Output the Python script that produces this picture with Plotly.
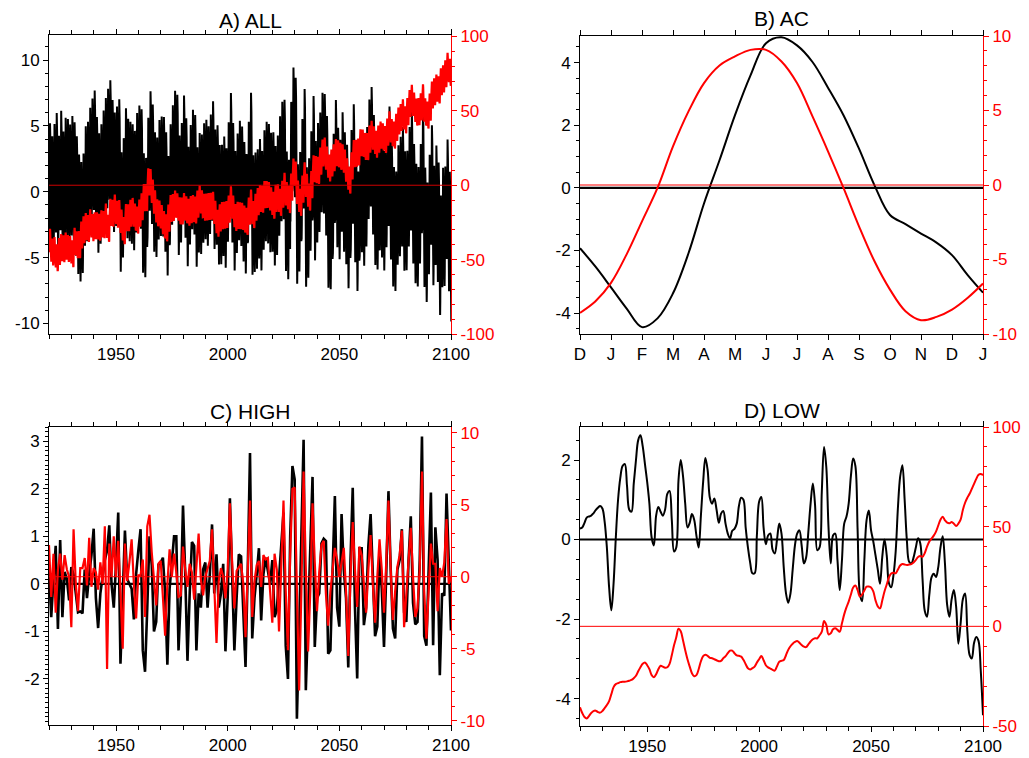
import numpy as np
import plotly.graph_objects as go

# ---------------- data ----------------
YEARS = list(range(1920, 2101))

# C) HIGH : annual high-frequency component (black = left axis, red = right axis)
HIGH_BLACK = [
    0.3, -0.7, 0.1, 0.8, -0.95, 0.92, -0.7, 0.25, 0.1, -0.35,
    0.35, 0.2, -0.2, -0.6, -0.58, -0.62, 0.3, -0.3, 0.2, 0.6,
    1.16, -0.3, -0.93, -0.2, 0.15, 0.5, 0.7, 1.23, 0.0, -0.5,
    0.4, 1.5, -1.68, -0.4, 1.12, 0.1, 0.0, -0.1, -0.75, 0.2,
    0.7, 1.15, -1.4, -1.85, -0.5, 1.0, 0.4, -1.0, -0.8, 0.4,
    0.45, 0.55, -0.2, -1.7, -0.1, 0.5, 1.0, 1.0, -1.4, -0.3,
    1.65, 0.2, -1.62, -0.2, 0.88, 0.8, -1.4, -0.2, -0.5, 0.3,
    0.45, -0.5, 0.2, 1.25, -0.2, 0.62, -0.5, -0.2, 0.42, -1.42,
    -0.3, 1.8, 0.3, -1.4, -0.3, 0.62, 0.58, -0.5, -1.75, 0.3,
    2.75, -1.15, -0.3, 0.2, 0.75, -0.77, 0.2, 0.55, 0.3, 0.0,
    0.5, -0.7, -0.55, 0.2, 0.8, 1.5, -1.3, -2.0, 1.0, 2.48,
    2.2, -2.84, -1.0, 0.8, 3.03, -2.24, -0.8, 0.5, 2.25, -1.33,
    -0.3, -0.2, 0.85, 0.95, 0.9, -1.47, -1.4, 0.3, 1.85, -0.5,
    -0.9, 1.47, 0.3, -0.3, -1.76, 0.5, 2.02, -0.5, -1.99, 0.75,
    0.75, -0.87, -0.5, 0.8, 1.47, 0.2, -1.1, -0.9, 0.6, -0.1,
    -1.33, 0.2, 1.95, 0.3, -0.94, -1.15, 0.3, 0.5, 1.15, -0.6,
    -0.8, 0.5, 1.42, -0.4, -0.85, -0.8, 0.5, 3.1, -1.1, -1.3,
    0.3, 1.92, -1.29, 1.19, 0.5, -1.92, -0.2, -0.25, 1.9, 0.2,
    -0.98,
]
HIGH_RED = [
    2.2, -1.4, 1.6, -2.5, 0.5, 1.6, -0.2, 1.5, 0.5, 0.0,
    -3.5, 3.3, -0.5, -2.4, 0.6, 0.6, 1.3, -0.6, 2.7, -0.7,
    0.6, 0.3, -0.9, 1.0, -0.5, 3.5, -6.4, 2.3, 0.0, 2.8,
    0.0, 2.5, -1.0, -5.0, 2.3, -0.3, 1.0, 2.6, -0.5, -2.9,
    0.1, 0.1, 1.2, -2.8, 3.5, 4.3, 1.7, -0.5, -2.0, 0.9,
    1.1, -1.4, -4.1, -0.5, 1.9, 0.0, 1.6, 0.3, -1.4, -1.3,
    2.1, 0.5, -0.7, 0.9, 0.3, -1.6, 0.8, 3.0, -0.2, -1.3,
    0.0, 0.5, 1.1, 3.3, -0.5, -4.6, -0.3, 0.6, 0.0, -1.5,
    0.5, 5.1, 1.0, -2.2, 0.4, 0.7, 0.9, -0.5, -4.2, 0.5,
    5.3, -2.8, -0.3, 0.8, 1.1, -0.7, 1.5, 1.2, 1.3, -1.0,
    -3.2, 1.6, 0.5, -3.8, 0.5, 5.3, -1.0, -5.1, 1.5, 6.1,
    6.2, -2.0, -7.9, -1.0, 7.3, 0.5, -5.2, -1.0, 5.1, 1.0,
    -2.4, 0.3, 2.2, 2.5, -1.2, -3.4, -1.0, 0.5, 2.0, 1.2,
    0.0, 1.0, 2.0, -1.0, -5.5, 0.0, 3.8, 0.5, -2.1, 2.1,
    1.5, -0.5, -2.5, 0.5, 2.9, -0.5, -3.2, 0.0, 2.6, 0.5,
    -2.5, 1.0, 5.3, 0.5, -3.0, -1.0, 0.7, 1.5, 3.2, -3.5,
    -1.0, 1.5, 3.4, 0.0, -2.8, -2.2, 0.5, 7.3, -1.0, -4.3,
    -1.0, 2.3, 0.9, 0.9, -2.4, 0.6, 0.0, 1.0, 4.0, -0.5,
    0.0,
]

# D) LOW : annual low-frequency component
LOW_BLACK = [
    0.28, 0.30, 0.42, 0.55, 0.58, 0.60, 0.66, 0.74, 0.80, 0.84,
    0.78, 0.45, -0.2, -1.2, -1.78, -1.1, 0.05, 1.0, 1.55, 1.85,
    1.9, 1.35, 0.75, 0.7, 1.4, 2.0, 2.5, 2.62, 2.35, 1.9,
    1.45, 0.9, 0.05, -0.15, 0.6, 0.82, 0.7, 0.6, 0.75, 1.15,
    1.22, 0.5, -0.3, -0.2, 1.5, 2.0, 1.6, 0.9, 0.3, 0.42,
    0.64, 0.5, 0.1, -0.2, 0.6, 1.45, 2.05, 1.75, 1.05, 0.9,
    1.03, 0.75, 0.42, 0.65, 0.72, 0.4, 0.15, 0.03, 0.22, 0.27,
    0.4, 0.85, 1.05, 1.0, 0.3, -0.2, -0.58, -0.85, -0.85, 0.1,
    0.95, 1.07, 0.3, -0.12, 0.1, 0.15, -0.25, -0.35, 0.0, 0.4,
    0.15, -0.7, -1.35, -1.59, -1.36, -0.75, -0.15, 0.15, 0.23, -0.15,
    -0.6, -0.45, 0.2, 0.91, 1.41, 0.86, -0.27, -0.2, 1.2, 2.33,
    1.83, 0.3, -0.6, 0.1, 0.15, -0.52, -1.27, -0.52, 0.4, 0.57,
    0.9, 1.6, 2.04, 1.85, 0.23, -1.36, -1.55, -0.52, 0.49, 0.73,
    0.23, -0.05, -0.4, -0.75, -1.11, -0.44, 0.0, -0.4, -1.1, -1.2,
    -0.9, -0.3, 0.8, 1.58, 1.87, 1.0, -0.02, -0.56, -0.60, -0.45,
    -0.2, 0.03, -0.1, -1.0, -1.8, -1.94, -1.4, -0.95, -0.86, -0.94,
    -0.7, -0.2, 0.08, -0.6, -1.65, -1.94, -1.5, -1.27, -1.69, -2.62,
    -2.11, -1.5, -1.36, -2.3, -2.9, -2.99, -2.6, -2.45, -2.55, -3.3,
    -4.42,
]
LOW_RED = [
    -40.6, -43.5, -45.5, -46.2, -45.0, -43.5, -42.5, -42.3, -43.0, -43.3,
    -42.5, -41.0, -39.5, -37.5, -34.0, -30.5, -29.0, -28.5, -28.0, -27.8,
    -27.8, -27.6, -27.3, -26.9, -26.0, -24.8, -22.5, -20.5, -18.8, -18.1,
    -19.5, -21.5, -24.5, -25.5, -24.0, -21.5, -19.8, -20.2, -20.8, -20.5,
    -18.8, -14.5, -9.5, -5.5, -1.2, -2.5, -7.0, -12.0, -16.5, -20.2,
    -23.5, -25.0, -24.5, -21.5, -17.5, -15.0, -14.2, -14.8, -15.8, -16.0,
    -16.5, -17.0, -17.5, -17.3, -16.0, -15.0, -13.5, -12.2, -12.2, -13.5,
    -14.6, -14.8, -15.2, -16.8, -19.0, -21.0, -21.6, -21.0, -20.2, -18.2,
    -16.5, -14.9, -17.0, -19.5, -20.6, -21.2, -21.8, -22.2, -20.0, -17.8,
    -17.3, -16.9, -14.5, -11.8, -10.0, -8.7, -7.8, -7.4, -8.2, -9.4,
    -10.2, -10.4, -9.0, -7.6, -6.5, -6.0, -6.0, -4.5, -2.7, 2.7,
    0.7, -4.0, -3.5, -1.5, -1.0, -1.8, -2.7, 1.5, 6.0, 9.5,
    12.4, 16.0, 19.5, 20.5, 18.2, 15.0, 16.0, 18.0, 19.9, 20.0,
    19.5, 17.5, 13.0, 10.0, 9.0, 13.0, 17.5, 21.0, 24.5, 26.5,
    26.9, 26.6, 28.5, 30.5, 31.3, 31.0, 30.8, 31.0, 31.2, 32.0,
    33.3, 34.8, 35.3, 34.9, 36.8, 40.0, 42.5, 44.0, 45.5, 47.5,
    50.5, 53.5, 55.0, 53.2, 52.0, 51.7, 52.3, 51.5, 50.3, 51.5,
    53.5, 58.4, 62.0, 64.5, 66.5, 69.0, 71.5, 74.0, 76.0, 76.4,
    75.9,
]

# B) AC : annual cycle, sampled every half month from December (0) to January (13)
AC_POS = [0, 0.5, 1, 1.5, 2, 2.5, 3, 3.5, 4, 4.5, 5, 5.5, 6, 6.5, 7, 7.5, 8, 8.5,
          9, 9.5, 10, 10.5, 11, 11.5, 12, 12.5, 13]
AC_BLACK = [-1.93, -2.52, -3.18, -3.85, -4.45, -4.17, -3.37, -2.09, -0.50, 0.88,
            2.32, 3.59, 4.62, 4.81, 4.55, 4.02, 3.20, 2.32, 1.25, 0.08,
            -0.87, -1.16, -1.46, -1.75, -2.15, -2.78, -3.35]
AC_RED = [-8.58, -7.80, -6.57, -4.67, -2.44, -0.20, 2.59, 4.94, 6.84, 8.02,
          8.63, 9.07, 9.07, 8.29, 6.84, 4.60, 2.26, -0.20, -2.77, -5.12,
          -7.02, -8.47, -9.07, -8.85, -8.36, -7.58, -6.61]
MONTH_TICKS = list(range(14))
MONTH_LABELS = ["D", "J", "F", "M", "A", "M", "J", "J", "A", "S", "O", "N", "D", "J"]

# tick label values
YEAR_TICKS = [1950, 2000, 2050, 2100]
A_LEFT_TICKS = [-10, -5, 0, 5, 10]
A_RIGHT_TICKS = [-100, -50, 0, 50, 100]
B_LEFT_TICKS = [-4, -2, 0, 2, 4]
B_RIGHT_TICKS = [-10, -5, 0, 5, 10]
C_LEFT_TICKS = [-2, -1, 0, 1, 2, 3]
C_RIGHT_TICKS = [-10, -5, 0, 5, 10]
D_LEFT_TICKS = [-4, -2, 0, 2]
D_RIGHT_TICKS = [-50, 0, 50, 100]

# A) ALL : monthly series = annual cycle (Jan..Dec) + high + low components
ac_month_black = np.array(AC_BLACK)[2:25:2]
ac_month_red = np.array(AC_RED)[2:25:2]
yrs = np.array(YEARS, dtype=float)
ALL_X = (yrs[:, None] + (np.arange(12) + 0.5)[None, :] / 12.0).ravel()
ALL_BLACK = (np.array(HIGH_BLACK)[:, None] + np.array(LOW_BLACK)[:, None]
             + ac_month_black[None, :]).ravel()
ALL_RED = (np.array(HIGH_RED)[:, None] + np.array(LOW_RED)[:, None]
           + ac_month_red[None, :]).ravel()

# ---------------- figure ----------------
W, H = 1029, 758
FONT = "Liberation Sans, Arial, Helvetica, sans-serif"
RED = "#ff0000"

def px_x(a, b):
    return [a / W, b / W]

def px_y(top, bottom):
    return [1 - bottom / H, 1 - top / H]

fig = go.Figure()

panels = {
    "A": dict(x="x", y="y", y2="y2", xd=px_x(49, 451), yd=px_y(35, 334)),
    "B": dict(x="x2", y="y3", y2="y4", xd=px_x(580, 983), yd=px_y(36, 334)),
    "C": dict(x="x3", y="y5", y2="y6", xd=px_x(49, 451), yd=px_y(427, 725)),
    "D": dict(x="x4", y="y7", y2="y8", xd=px_x(580, 983), yd=px_y(427, 726)),
}

def line(x, y, p, right, color, width, shape="linear"):
    fig.add_trace(go.Scatter(
        x=x, y=y, mode="lines", xaxis=p["x"], yaxis=p["y2"] if right else p["y"],
        line=dict(color=color, width=width, shape=shape), showlegend=False,
        hoverinfo="skip"))

# A
pA = panels["A"]
line(ALL_X, ALL_BLACK, pA, False, "black", 2)
line(ALL_X, ALL_RED, pA, True, RED, 2.2)
line([1920, 2100], [0, 0], pA, True, "#cc0000", 1)
# B
pB = panels["B"]
line([0, 13], [0, 0], pB, False, "black", 2.2)
line([0, 13], [0, 0], pB, True, RED, 1)
line(AC_POS, AC_BLACK, pB, False, "black", 2, "spline")
line(AC_POS, AC_RED, pB, True, RED, 2, "spline")
# C
pC = panels["C"]
line([1920, 2100], [0, 0], pC, False, "black", 2.2)
line(YEARS, HIGH_BLACK, pC, False, "black", 2.6)
line(YEARS, HIGH_RED, pC, True, RED, 2.2)
line([1920, 2100], [0, 0], pC, True, RED, 1)
# D
pD = panels["D"]
line([1920, 2100], [0, 0], pD, False, "black", 2.2)
line([1920, 2100], [0, 0], pD, True, RED, 1)
line(YEARS, LOW_BLACK, pD, False, "black", 2, "spline")
line(YEARS, LOW_RED, pD, True, RED, 2, "spline")

tickfont = dict(family=FONT, size=17, color="black")
redfont = dict(family=FONT, size=17, color=RED)

def labels(vals):
    return ["%g" % v for v in vals]   # plain hyphen-minus like the reference

def xaxis_cfg(p, rng, **kw):
    d = dict(domain=p["xd"], anchor=p["y"], range=rng, showgrid=False, zeroline=False,
             automargin=False,
             showline=True, linecolor="black", linewidth=1, mirror="ticks",
             ticks="outside", ticklen=5, tickwidth=1, tickcolor="black",
             tickfont=tickfont)
    d.update(kw)
    return d

def yaxis_cfg(p, rng, vals, minor):
    return dict(domain=p["yd"], anchor=p["x"], range=rng, showgrid=False, zeroline=False,
                automargin=False,
                showline=True, linecolor="black", linewidth=1, mirror=False,
                ticks="outside", ticklen=5, tickwidth=1, tickcolor="black",
                tickmode="array", tickvals=vals, ticktext=labels(vals), tickfont=tickfont,
                minor=dict(ticks="outside", ticklen=3, tickmode="linear", dtick=minor,
                           tick0=0, tickcolor="black", showgrid=False))

def y2axis_cfg(p, rng, vals, minor, overlay):
    return dict(domain=p["yd"], anchor=p["x"], overlaying=overlay, side="right",
                range=rng, showgrid=False, zeroline=False, automargin=False,
                showline=True, linecolor=RED, linewidth=1,
                ticks="outside", ticklen=5, tickwidth=1, tickcolor=RED,
                tickmode="array", tickvals=vals, ticktext=labels(vals), tickfont=redfont,
                minor=dict(ticks="outside", ticklen=3, tickmode="linear", dtick=minor,
                           tick0=0, tickcolor=RED, showgrid=False))

year_minor = dict(ticks="outside", ticklen=4, tickmode="linear", dtick=10, tick0=1920,
                  tickcolor="black")

fig.update_layout(
    width=W, height=H, margin=dict(l=0, r=0, t=0, b=0, autoexpand=False),
    paper_bgcolor="white", plot_bgcolor="white", showlegend=False,
    xaxis=xaxis_cfg(pA, [1920, 2100], tickmode="array", tickvals=YEAR_TICKS,
                    ticktext=labels(YEAR_TICKS), minor=year_minor),
    yaxis=yaxis_cfg(pA, [-10.8, 11.9], A_LEFT_TICKS, 1),
    yaxis2=y2axis_cfg(pA, [-100, 101], A_RIGHT_TICKS, 10, "y"),
    xaxis2=xaxis_cfg(pB, [0, 13], tickmode="array", tickvals=MONTH_TICKS, ticktext=MONTH_LABELS),
    yaxis3=yaxis_cfg(pB, [-4.67, 4.85], B_LEFT_TICKS, 0.5),
    yaxis4=y2axis_cfg(pB, [-10, 10], B_RIGHT_TICKS, 1, "y3"),
    xaxis3=xaxis_cfg(pC, [1920, 2100], tickmode="array", tickvals=YEAR_TICKS,
                     ticktext=labels(YEAR_TICKS), minor=year_minor),
    yaxis5=yaxis_cfg(pC, [-2.97, 3.30], C_LEFT_TICKS, 0.1),
    yaxis6=y2axis_cfg(pC, [-10.3, 10.4], C_RIGHT_TICKS, 1, "y5"),
    xaxis4=xaxis_cfg(pD, [1920, 2100], tickmode="array", tickvals=YEAR_TICKS,
                     ticktext=labels(YEAR_TICKS), minor=year_minor),
    yaxis7=yaxis_cfg(pD, [-4.69, 2.83], D_LEFT_TICKS, 0.5),
    yaxis8=y2axis_cfg(pD, [-50, 100], D_RIGHT_TICKS, 10, "y7"),
)

titles = [("A) ALL", pA, 20), ("B) AC", pB, 19), ("C) HIGH", pC, 411), ("D) LOW", pD, 410)]
for txt, p, ypix in titles:
    fig.add_annotation(text=txt, xref="paper", yref="paper",
                       x=(p["xd"][0] + p["xd"][1]) / 2, y=1 - ypix / H,
                       xanchor="center", yanchor="middle", showarrow=False,
                       font=dict(family=FONT, size=21, color="black"))

fig.write_html(
    "out.html",
    config={"displayModeBar": False},
    post_script="document.body.style.margin='0px';document.body.style.overflow='hidden';",
)
